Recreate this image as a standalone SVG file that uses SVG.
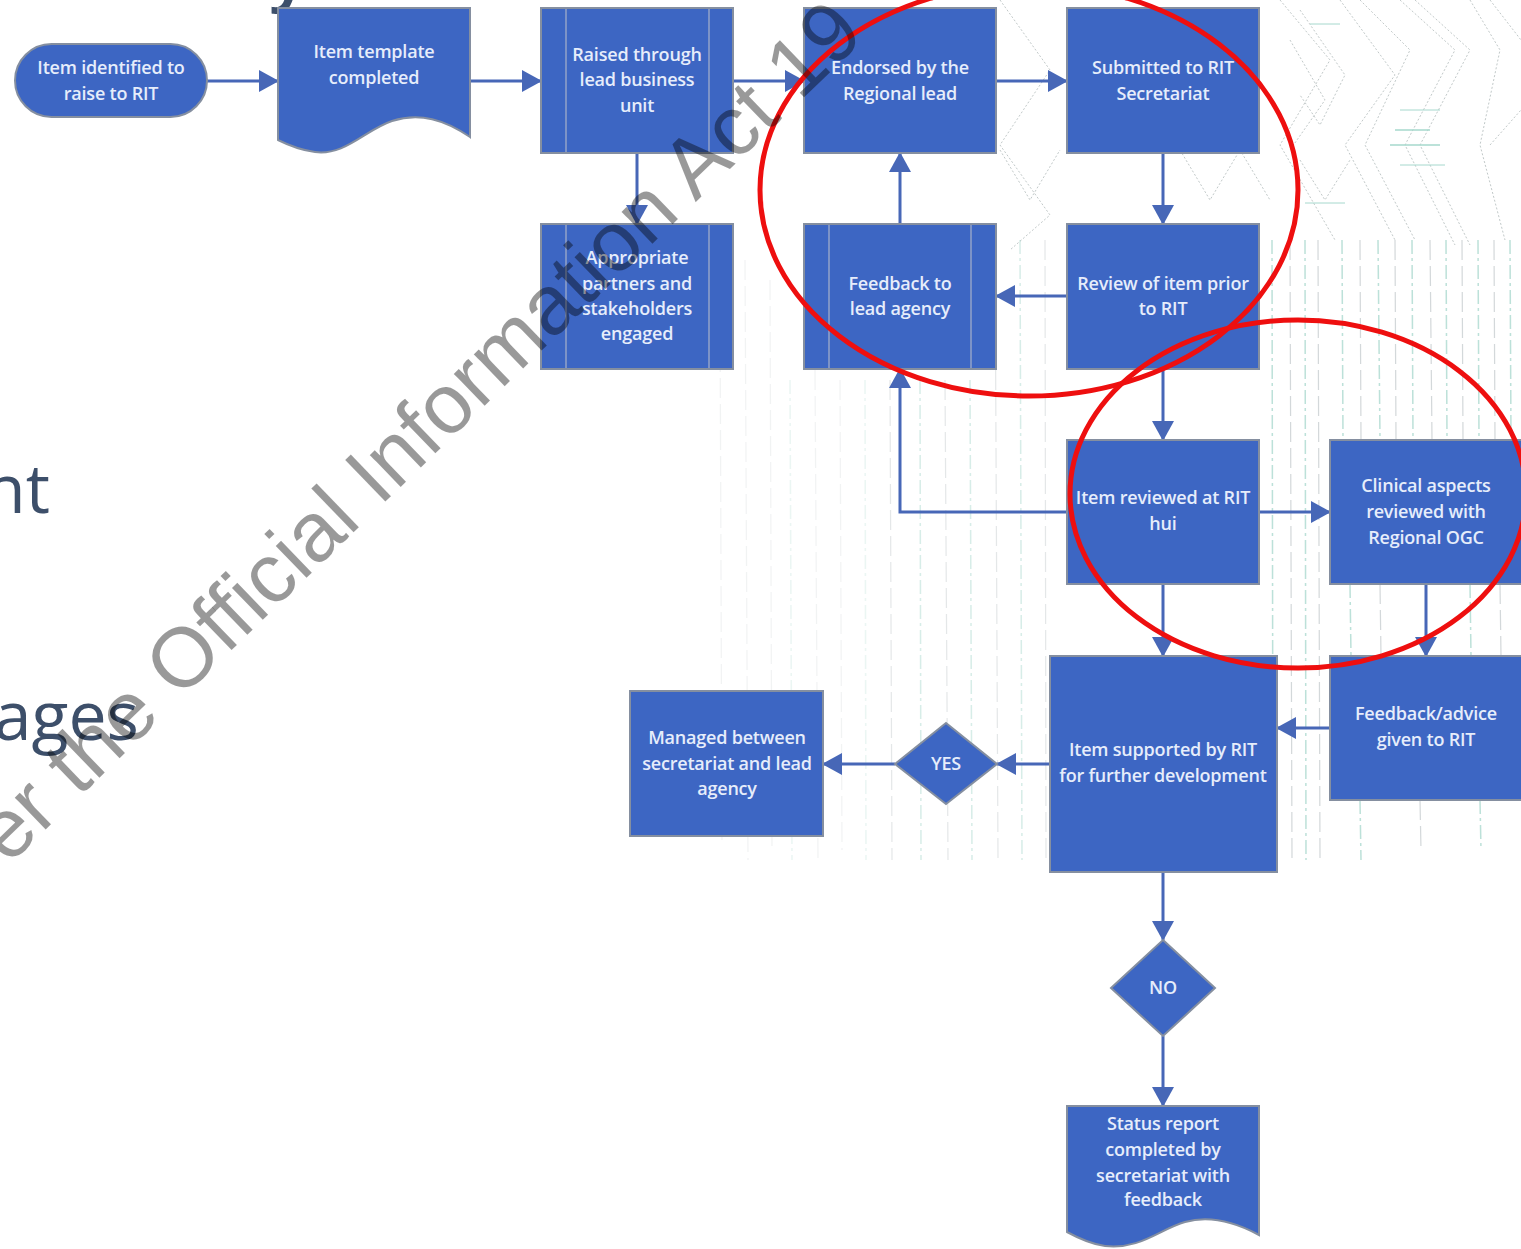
<svg xmlns="http://www.w3.org/2000/svg" width="1521" height="1249" viewBox="0 0 1521 1249">
<defs>
<style>
.node{fill:#3d66c3;stroke:#858fa0;stroke-width:2}
.inner{stroke:#93a3c8;stroke-width:1.5;fill:none}
.lbl{font-family:"Open Sans","Noto Sans",sans-serif;font-size:18px;font-weight:600;fill:#e6edfb;text-anchor:middle;letter-spacing:-0.2px}
.conn{stroke:#4767b7;stroke-width:3;fill:none;marker-end:url(#ah)}
.bg{font-family:"Open Sans","Noto Sans",sans-serif;fill:#3d4f6a}
.zig{fill:none;stroke:#9aa6a6;stroke-width:1;stroke-dasharray:2 2}
.vs{stroke:#7cc4b4;stroke-width:1.5;stroke-dasharray:14 4 3 4}
.vg{stroke:#a9b2b6;stroke-width:1.2;stroke-dasharray:20 6}
</style>
<marker id="ah" markerWidth="20" markerHeight="22" refX="19" refY="11" orient="auto" markerUnits="userSpaceOnUse">
<path d="M0,0 L20,11 L0,22 Z" fill="#4767b7"/>
</marker>
</defs>
<rect width="1521" height="1249" fill="#ffffff"/>

<g id="background-pattern" opacity="0.6">
<polyline class="zig" points="1000,0 1050,70 1000,145 1050,215 1010,250"/>
<polyline class="zig" points="1280,0 1330,60 1280,145 1335,240"/>
<polyline class="zig" points="1300,10 1345,75 1320,125 1300,95"/>
<polyline class="zig" points="1290,40 1325,100 1290,150"/>
<polyline class="zig" points="1340,0 1395,75 1345,145 1395,240"/>
<polyline class="zig" points="1360,0 1410,50 1365,145 1415,240"/>
<polyline class="zig" points="1400,0 1455,50 1405,145 1455,245"/>
<polyline class="zig" points="1415,0 1470,50 1420,145 1470,245"/>
<polyline class="zig" points="1470,0 1500,50 1480,145 1505,240"/>
<polyline class="zig" points="1490,0 1521,40"/>
<polyline class="zig" points="1490,145 1521,110"/>
<polyline class="zig" points="1300,160 1325,200 1350,160"/>
<polyline class="zig" points="1180,150 1210,200 1240,150 1270,200"/>
<polyline class="zig" points="1000,150 1030,200 1060,150"/>
<line x1="1395" y1="130" x2="1430" y2="130" stroke="#6cc0ad" stroke-width="1.5"/>
<line x1="1390" y1="145" x2="1440" y2="145" stroke="#6cc0ad" stroke-width="1.5"/>
<line x1="1400" y1="110" x2="1440" y2="110" stroke="#6cc0ad" stroke-width="1"/>
<line x1="1400" y1="165" x2="1445" y2="165" stroke="#6cc0ad" stroke-width="1"/>
<line x1="1305" y1="203" x2="1345" y2="203" stroke="#6cc0ad" stroke-width="1"/>
<line x1="1310" y1="24" x2="1340" y2="24" stroke="#6cc0ad" stroke-width="1"/>
</g>
<g id="background-streaks">
<g opacity="0.15">
<line class="vg" x1="720" y1="300" x2="722" y2="840"/>
<line class="vg" x1="745" y1="260" x2="748" y2="860"/>
<line class="vg" x1="770" y1="280" x2="772" y2="850"/>
<line class="vs" x1="790" y1="380" x2="792" y2="860"/>
<line class="vg" x1="815" y1="370" x2="818" y2="860"/>
<line class="vg" x1="840" y1="380" x2="842" y2="850"/>
<line class="vs" x1="865" y1="380" x2="866" y2="860"/>
</g>
<g opacity="0.3">
<line class="vg" x1="890" y1="380" x2="892" y2="860"/>
<line class="vs" x1="920" y1="380" x2="921" y2="860"/>
<line class="vg" x1="945" y1="380" x2="948" y2="860"/>
<line class="vs" x1="970" y1="380" x2="972" y2="860"/>
<line class="vg" x1="995" y1="240" x2="998" y2="860"/>
<line class="vs" x1="1020" y1="240" x2="1022" y2="860"/>
<line class="vg" x1="1045" y1="240" x2="1046" y2="860"/>
</g>
<g opacity="0.5">
<line class="vs" x1="1272" y1="240" x2="1273" y2="860"/>
<line class="vg" x1="1290" y1="240" x2="1292" y2="860"/>
<line class="vs" x1="1305" y1="240" x2="1306" y2="860"/>
<line class="vg" x1="1318" y1="240" x2="1320" y2="860"/>
<line class="vs" x1="1342" y1="240" x2="1343" y2="440"/>
<line class="vg" x1="1360" y1="240" x2="1361" y2="440"/>
<line class="vs" x1="1378" y1="240" x2="1380" y2="440"/>
<line class="vg" x1="1395" y1="240" x2="1396" y2="440"/>
<line class="vs" x1="1412" y1="240" x2="1413" y2="440"/>
<line class="vg" x1="1430" y1="240" x2="1432" y2="440"/>
<line class="vs" x1="1446" y1="240" x2="1447" y2="440"/>
<line class="vg" x1="1462" y1="240" x2="1463" y2="440"/>
<line class="vs" x1="1478" y1="240" x2="1479" y2="440"/>
<line class="vg" x1="1494" y1="240" x2="1495" y2="440"/>
<line class="vs" x1="1510" y1="240" x2="1511" y2="440"/>
<line class="vs" x1="1350" y1="584" x2="1351" y2="656"/>
<line class="vg" x1="1380" y1="584" x2="1381" y2="656"/>
<line class="vs" x1="1470" y1="584" x2="1471" y2="656"/>
<line class="vg" x1="1500" y1="584" x2="1501" y2="656"/>
<line class="vs" x1="1360" y1="800" x2="1361" y2="860"/>
<line class="vg" x1="1420" y1="800" x2="1421" y2="850"/>
<line class="vs" x1="1480" y1="800" x2="1481" y2="850"/>
</g>
</g>

<g id="slide-text">
<text class="bg" x="50" y="513" font-size="68" text-anchor="end">nt</text>
<text class="bg" x="139" y="740" font-size="68" text-anchor="end">ages</text>
<text class="bg" x="270" y="-3" font-size="72" font-weight="600">y</text>
</g>

<g id="connectors">
<line class="conn" x1="207" y1="81" x2="278" y2="81"/>
<line class="conn" x1="470" y1="81" x2="541" y2="81"/>
<line class="conn" x1="733" y1="81" x2="804" y2="81"/>
<line class="conn" x1="996" y1="81" x2="1067" y2="81"/>
<line class="conn" x1="637" y1="153" x2="637" y2="224"/>
<line class="conn" x1="1163" y1="153" x2="1163" y2="224"/>
<line class="conn" x1="1067" y1="296" x2="996" y2="296"/>
<line class="conn" x1="900" y1="224" x2="900" y2="153"/>
<line class="conn" x1="1163" y1="369" x2="1163" y2="440"/>
<polyline class="conn" points="1067,512 900,512 900,369"/>
<line class="conn" x1="1259" y1="512" x2="1330" y2="512"/>
<line class="conn" x1="1163" y1="584" x2="1163" y2="656"/>
<line class="conn" x1="1426" y1="584" x2="1426" y2="656"/>
<line class="conn" x1="1330" y1="728" x2="1277" y2="728"/>
<line class="conn" x1="1050" y1="764" x2="997" y2="764"/>
<line class="conn" x1="895" y1="764" x2="823" y2="764"/>
<line class="conn" x1="1163" y1="872" x2="1163" y2="940"/>
<line class="conn" x1="1163" y1="1036" x2="1163" y2="1106"/>
</g>

<g id="n-item-identified">
<rect class="node" x="15" y="44" width="192" height="73" rx="36.5"/>
<text class="lbl"><tspan x="111" y="74">Item identified to</tspan><tspan x="111" y="100">raise to RIT</tspan></text>
</g>
<g id="n-item-template">
<path class="node" d="M278,8 H470 V137 C445,120 420,112 392,121 C365,130 345,156 315,152 C300,150 290,146 278,140 Z"/>
<text class="lbl"><tspan x="374" y="58">Item template</tspan><tspan x="374" y="84">completed</tspan></text>
</g>
<g id="n-raised-through">
<rect class="node" x="541" y="8" width="192" height="145"/>
<line class="inner" x1="566" y1="9" x2="566" y2="152"/>
<line class="inner" x1="709" y1="9" x2="709" y2="152"/>
<text class="lbl"><tspan x="637" y="61">Raised through</tspan><tspan x="637" y="86">lead business</tspan><tspan x="637" y="112">unit</tspan></text>
</g>
<g id="n-endorsed">
<rect class="node" x="804" y="8" width="192" height="145"/>
<text class="lbl"><tspan x="900" y="74">Endorsed by the</tspan><tspan x="900" y="100">Regional lead</tspan></text>
</g>
<g id="n-submitted">
<rect class="node" x="1067" y="8" width="192" height="145"/>
<text class="lbl"><tspan x="1163" y="74">Submitted to RIT</tspan><tspan x="1163" y="100">Secretariat</tspan></text>
</g>
<g id="n-appropriate">
<rect class="node" x="541" y="224" width="192" height="145"/>
<line class="inner" x1="566" y1="225" x2="566" y2="368"/>
<line class="inner" x1="709" y1="225" x2="709" y2="368"/>
<text class="lbl"><tspan x="637" y="264">Appropriate</tspan><tspan x="637" y="290">partners and</tspan><tspan x="637" y="315">stakeholders</tspan><tspan x="637" y="340">engaged</tspan></text>
</g>
<g id="n-feedback-lead">
<rect class="node" x="804" y="224" width="192" height="145"/>
<line class="inner" x1="829" y1="225" x2="829" y2="368"/>
<line class="inner" x1="971" y1="225" x2="971" y2="368"/>
<text class="lbl"><tspan x="900" y="290">Feedback to</tspan><tspan x="900" y="315">lead agency</tspan></text>
</g>
<g id="n-review-prior">
<rect class="node" x="1067" y="224" width="192" height="145"/>
<text class="lbl"><tspan x="1163" y="290">Review of item prior</tspan><tspan x="1163" y="315">to RIT</tspan></text>
</g>
<g id="n-reviewed-hui">
<rect class="node" x="1067" y="440" width="192" height="144"/>
<text class="lbl"><tspan x="1163" y="504">Item reviewed at RIT</tspan><tspan x="1163" y="530">hui</tspan></text>
</g>
<g id="n-clinical">
<rect class="node" x="1330" y="440" width="194" height="144"/>
<text class="lbl"><tspan x="1426" y="492">Clinical aspects</tspan><tspan x="1426" y="518">reviewed with</tspan><tspan x="1426" y="544">Regional OGC</tspan></text>
</g>
<g id="n-supported">
<rect class="node" x="1050" y="656" width="227" height="216"/>
<text class="lbl"><tspan x="1163" y="756">Item supported by RIT</tspan><tspan x="1163" y="782">for further development</tspan></text>
</g>
<g id="n-feedback-advice">
<rect class="node" x="1330" y="656" width="194" height="144"/>
<text class="lbl"><tspan x="1426" y="720">Feedback/advice</tspan><tspan x="1426" y="746">given to RIT</tspan></text>
</g>
<g id="n-managed">
<rect class="node" x="630" y="691" width="193" height="145"/>
<text class="lbl"><tspan x="727" y="744">Managed between</tspan><tspan x="727" y="770">secretariat and lead</tspan><tspan x="727" y="795">agency</tspan></text>
</g>
<g id="n-yes">
<path class="node" d="M946,723 L997,764 L946,804 L895,764 Z" fill="#3a60b8"/>
<text class="lbl" x="946" y="770">YES</text>
</g>
<g id="n-no">
<path class="node" d="M1163,940 L1215,988 L1163,1036 L1111,988 Z"/>
<text class="lbl" x="1163" y="994">NO</text>
</g>
<g id="n-status">
<path class="node" d="M1067,1106 H1259 V1235 C1235,1222 1210,1215 1185,1222 C1160,1229 1140,1250 1105,1246 C1090,1244 1078,1238 1067,1232 Z"/>
<text class="lbl"><tspan x="1163" y="1130">Status report</tspan><tspan x="1163" y="1156">completed by</tspan><tspan x="1163" y="1182">secretariat with</tspan><tspan x="1163" y="1206">feedback</tspan></text>
</g>

<g id="annotations" fill="none" stroke="#ee0f0f" stroke-width="5">
<ellipse cx="1029" cy="190" rx="269" ry="206"/>
<ellipse cx="1298" cy="494" rx="228" ry="174"/>
</g>

<g id="watermark">
<text x="8" y="866" transform="rotate(-44 8 866)" font-family="'Liberation Sans',Arial,sans-serif" font-size="84" fill="#000000" fill-opacity="0.4">er the Official Information Act 19</text>
</g>
</svg>
